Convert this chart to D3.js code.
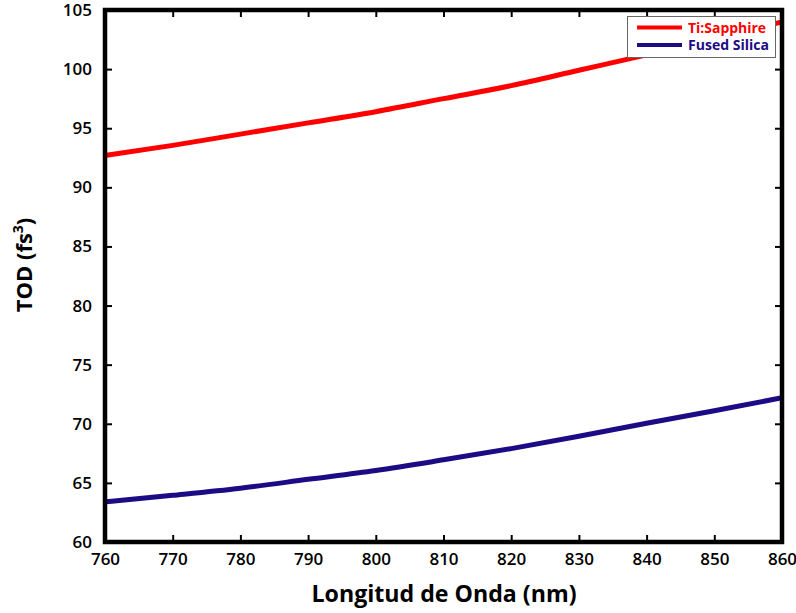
<!DOCTYPE html>
<html>
<head>
<meta charset="utf-8">
<script src="https://cdn.jsdelivr.net/npm/d3@7"></script>
<style>
  html, body { margin: 0; padding: 0; background: #fff; }
  svg { display: block; }
</style>
</head>
<body>
<svg id="chart" width="796" height="613"></svg>
<script>
// Data
const wavelengths = [760, 770, 780, 790, 800, 810, 820, 830, 840, 850, 860];
const tiSapphire  = [92.7, 93.55, 94.5, 95.45, 96.4, 97.5, 98.6, 99.9, 101.2, 102.6, 104.0];
const fusedSilica = [63.4, 63.95, 64.55, 65.3, 66.05, 66.95, 67.9, 68.95, 70.05, 71.1, 72.2];
const seriesNames = ["Ti:Sapphire", "Fused Silica"];
const seriesColors = ["#ff0000", "#1c0b84"];
const xTicks = [760, 770, 780, 790, 800, 810, 820, 830, 840, 850, 860];
const yTicks = [60, 65, 70, 75, 80, 85, 90, 95, 100, 105];

const svg = d3.select("#chart");
const W = 796, H = 613;
const m = {left: 105, right: 14, top: 10, bottom: 71};
const x = d3.scaleLinear().domain([760, 860]).range([m.left, W - m.right]);
const y = d3.scaleLinear().domain([60, 105]).range([H - m.bottom, m.top]);

const font = "'Open Sans', 'DejaVu Sans', sans-serif";

// Lines
const series = [tiSapphire, fusedSilica];
const line = d3.line().curve(d3.curveMonotoneX)
  .x((d, i) => x(wavelengths[i])).y(d => y(d));
svg.append("clipPath").attr("id", "clip").append("rect")
  .attr("x", m.left).attr("y", m.top)
  .attr("width", W - m.left - m.right).attr("height", H - m.top - m.bottom);
series.forEach((s, k) => {
  svg.append("path").datum(s)
    .attr("fill", "none").attr("stroke", seriesColors[k])
    .attr("stroke-width", 5).attr("clip-path", "url(#clip)")
    .attr("d", line);
});

// Axes (ticks inward)
function styleAxis(g) {
  g.select(".domain").remove();
  g.selectAll(".tick line").attr("stroke", "#000").attr("stroke-width", 2);
  g.selectAll(".tick text").attr("font-family", font).attr("font-size", 17)
    .attr("font-weight", 600).attr("fill", "#000");
}
const xb = svg.append("g").attr("transform", `translate(0,${H - m.bottom})`)
  .call(d3.axisBottom(x).tickValues(xTicks).tickSize(-7).tickPadding(11).tickFormat(d3.format("d")));
styleAxis(xb);
const xt = svg.append("g").attr("transform", `translate(0,${m.top})`)
  .call(d3.axisTop(x).tickValues(xTicks).tickSize(-7).tickFormat(""));
styleAxis(xt);
const yl = svg.append("g").attr("transform", `translate(${m.left},0)`)
  .call(d3.axisLeft(y).tickValues(yTicks).tickSize(-7).tickPadding(13).tickFormat(d3.format("d")));
styleAxis(yl);
const yr = svg.append("g").attr("transform", `translate(${W - m.right},0)`)
  .call(d3.axisRight(y).tickValues(yTicks).tickSize(-7).tickFormat(""));
styleAxis(yr);

// Frame
svg.append("rect")
  .attr("x", m.left).attr("y", m.top)
  .attr("width", W - m.left - m.right).attr("height", H - m.top - m.bottom)
  .attr("fill", "none").attr("stroke", "#000").attr("stroke-width", 4.5);

// Axis titles
svg.append("text")
  .attr("x", 444).attr("y", 602)
  .attr("text-anchor", "middle")
  .attr("font-family", font).attr("font-size", 24).attr("font-weight", 700)
  .attr("textLength", 265).attr("lengthAdjust", "spacingAndGlyphs")
  .text("Longitud de Onda (nm)");

const yt = svg.append("text")
  .attr("transform", `translate(32,265) rotate(-90)`)
  .attr("text-anchor", "middle")
  .attr("font-family", font).attr("font-size", 22).attr("font-weight", 700);
yt.append("tspan").text("TOD (fs");
yt.append("tspan").attr("font-size", 14).attr("dy", -9).text("3");
yt.append("tspan").attr("dy", 9).text(")");

// Legend
const lg = svg.append("g");
lg.append("rect").attr("x", 627.5).attr("y", 16.5).attr("width", 148).attr("height", 41)
  .attr("fill", "#fff").attr("stroke", "#666").attr("stroke-width", 1);
seriesNames.forEach((n, k) => {
  const yy = 27.5 + k * 17.5;
  lg.append("line").attr("x1", 637).attr("x2", 682).attr("y1", yy).attr("y2", yy)
    .attr("stroke", seriesColors[k]).attr("stroke-width", 4);
  lg.append("text").attr("x", 688).attr("y", yy + 5)
    .attr("font-family", font).attr("font-size", 14).attr("font-weight", 700)
    .attr("fill", seriesColors[k])
    .attr("textLength", k === 0 ? 78 : 81).attr("lengthAdjust", "spacingAndGlyphs")
    .text(n);
});
</script>
</body>
</html>
